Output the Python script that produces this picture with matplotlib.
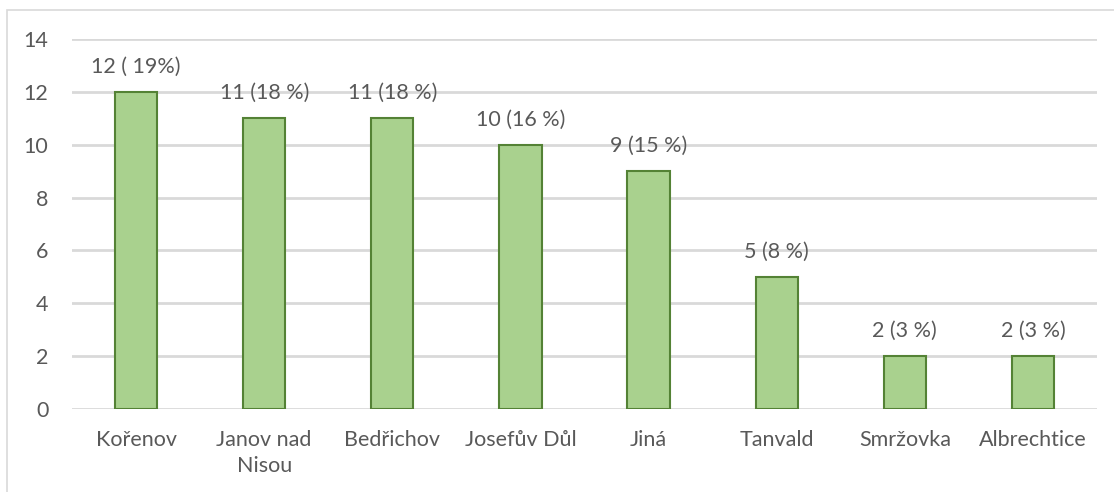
import matplotlib
matplotlib.use("Agg")
import matplotlib.pyplot as plt
from matplotlib.patches import Rectangle

categories = ["Kořenov", "Janov nad\nNisou", "Bedřichov", "Josefův Důl",
              "Jiná", "Tanvald", "Smržovka", "Albrechtice"]
values = [12, 11, 11, 10, 9, 5, 2, 2]
labels = ["12 ( 19%)", "11 (18 %)", "11 (18 %)", "10 (16 %)",
          "9 (15 %)", "5 (8 %)", "2 (3 %)", "2 (3 %)"]
yticks = [0, 2, 4, 6, 8, 10, 12, 14]

W, H = 1114, 492
text_color = "#595959"
fs = 15.5
plt.rcParams["font.family"] = ["Lato", "DejaVu Sans"]

fig = plt.figure(figsize=(W / 100, H / 100), dpi=100)
ax = fig.add_axes([72 / W, 1 - 409 / H, (1097 - 72) / W, (409 - 39) / H])

# chart border (left and top visible)
fig.patches.append(Rectangle((7 / W, -0.1), 1.2, 1 - 10 / H + 0.1,
                             transform=fig.transFigure, fill=False,
                             edgecolor="#D9D9D9", linewidth=1.2))

x = range(len(categories))
ax.bar(x, values, width=0.33, color="#A9D18E", edgecolor="#548235",
       linewidth=1.5, zorder=3)
for xi, v, lab in zip(x, values, labels):
    ax.annotate(lab, (xi, v), xytext=(0, 11), textcoords="offset points",
                ha="center", va="bottom", fontsize=fs, color=text_color)

ax.set_xlim(-0.5, len(categories) - 0.5)
ax.set_ylim(0, 14)
ax.set_yticks(yticks)
ax.set_xticks(list(x))
ax.set_xticklabels(categories, fontsize=fs, color=text_color, linespacing=1.4)
ax.tick_params(axis="y", labelsize=fs, labelcolor=text_color, length=0, pad=17)
ax.tick_params(axis="x", length=0, pad=15)
ax.grid(axis="y", color="#D9D9D9", linewidth=2, zorder=0)
for sp in ax.spines.values():
    sp.set_visible(False)

plt.savefig("out.png", dpi=100)
